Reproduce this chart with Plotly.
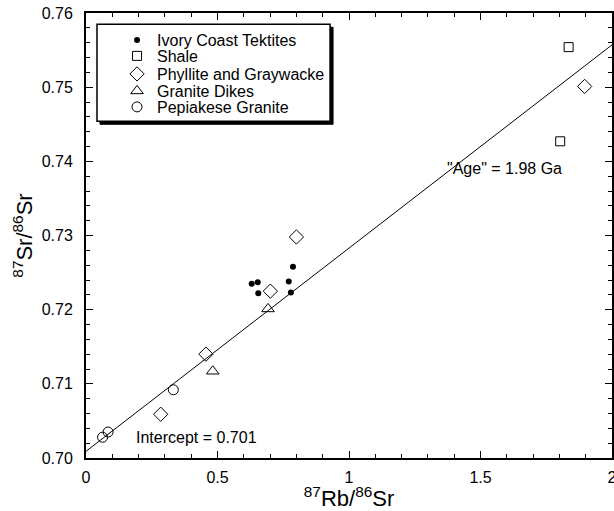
import plotly.graph_objects as go

# Data
tek_x = [0.630, 0.653, 0.655, 0.771, 0.787, 0.779]
tek_y = [0.7235, 0.7237, 0.7222, 0.7238, 0.7258, 0.7223]
shale_x = [1.835, 1.803]
shale_y = [0.7554, 0.7427]
phy_x = [0.284, 0.456, 0.701, 0.800, 1.896]
phy_y = [0.7059, 0.7140, 0.7225, 0.7298, 0.7501]
dike_x = [0.482, 0.692]
dike_y = [0.7117, 0.7201]
gran_x = [0.063, 0.084, 0.332]
gran_y = [0.7028, 0.7035, 0.7092]
fit_x = [0.0, 2.0]
fit_y = [0.7009, 0.7557]

x_ticks = [0, 0.5, 1, 1.5, 2]
x_labels = ["0", "0.5", "1", "1.5", "2"]
y_ticks = [0.70, 0.71, 0.72, 0.73, 0.74, 0.75, 0.76]
y_labels = ["0.70", "0.71", "0.72", "0.73", "0.74", "0.75", "0.76"]

FONT = "Liberation Sans, Arial, Helvetica, sans-serif"

fig = go.Figure()
fig.add_trace(go.Scatter(x=fit_x, y=fit_y, mode="lines",
                         line=dict(color="black", width=1), showlegend=False, hoverinfo="skip"))
fig.add_trace(go.Scatter(x=tek_x, y=tek_y, mode="markers", name="Ivory Coast Tektites", legend="legend",
                         marker=dict(symbol="circle", size=6, color="black")))
fig.add_trace(go.Scatter(x=shale_x, y=shale_y, mode="markers", name="Shale", legend="legend2",
                         marker=dict(symbol="square-open", size=9, color="black", line=dict(width=1))))
fig.add_trace(go.Scatter(x=phy_x, y=phy_y, mode="markers", name="Phyllite and Graywacke", legend="legend3",
                         marker=dict(symbol="diamond-open", size=11, color="black", line=dict(width=1))))
fig.add_trace(go.Scatter(x=dike_x, y=dike_y, mode="markers", name="Granite Dikes", legend="legend4",
                         marker=dict(symbol="triangle-up-open", size=11, color="black", line=dict(width=1))))
fig.add_trace(go.Scatter(x=gran_x, y=gran_y, mode="markers", name="Pepiakese Granite", legend="legend5",
                         marker=dict(symbol="circle-open", size=10, color="black", line=dict(width=1))))

axis_common = dict(showgrid=False, zeroline=False, showline=True, linecolor="black", linewidth=2,
                   mirror="ticks", ticks="inside", ticklen=7, tickwidth=1, tickcolor="black",
                   automargin=False, ticklabeloverflow="allow",
                   tickfont=dict(family=FONT, size=16, color="black"))

fig.update_xaxes(range=[0, 2], tickvals=x_ticks, ticktext=x_labels,
                 minor=dict(dtick=0.1, ticks="inside", ticklen=4, tickcolor="black", tickwidth=1),
                 ticklabelstandoff=4,
                 title=dict(text="<sup>87</sup>Rb/<sup>86</sup>Sr", font=dict(family=FONT, size=22, color="black"),
                            standoff=0),
                 **axis_common)
fig.update_yaxes(range=[0.70, 0.76], tickvals=y_ticks, ticktext=y_labels,
                 minor=dict(dtick=0.002, ticks="inside", ticklen=4, tickcolor="black", tickwidth=1),
                 ticklabelstandoff=8,
                 title=dict(text="<sup>87</sup>Sr/<sup>86</sup>Sr", font=dict(family=FONT, size=22, color="black"),
                            standoff=3),
                 **axis_common)

# legend box with drop shadow
fig.add_shape(type="rect", xref="paper", yref="paper", x0=0.0266, x1=0.4697, y0=0.750, y1=0.968,
              fillcolor="black", line=dict(color="black", width=1), layer="above")
fig.add_shape(type="rect", xref="paper", yref="paper", x0=0.0209, x1=0.464, y0=0.757, y1=0.975,
              fillcolor="white", line=dict(color="black", width=1.5), layer="above")

fig.add_annotation(x=0.183, y=0.7027, xref="x", yref="y", text="Intercept = 0.701", showarrow=False,
                   xanchor="left", font=dict(family=FONT, size=16, color="black"))
fig.add_annotation(x=1.365, y=0.7391, xref="x", yref="y", text='"Age" = 1.98 Ga', showarrow=False,
                   xanchor="left", font=dict(family=FONT, size=16, color="black"))

row_y = [0.939, 0.9034, 0.8629, 0.8247, 0.7888]
leg_common = dict(x=0.059, xanchor="left", yanchor="middle", bgcolor="rgba(0,0,0,0)", borderwidth=0,
                  font=dict(family=FONT, size=16, color="black"), itemwidth=30)

fig.update_layout(width=614, height=511, margin=dict(l=86, r=2, t=13, b=53),
                  paper_bgcolor="white", plot_bgcolor="white",
                  legend=dict(y=row_y[0], **leg_common),
                  legend2=dict(y=row_y[1], **leg_common),
                  legend3=dict(y=row_y[2], **leg_common),
                  legend4=dict(y=row_y[3], **leg_common),
                  legend5=dict(y=row_y[4], **leg_common),
                  font=dict(family=FONT, color="black"))

fig.write_html("out.html", config={"displayModeBar": False},
               post_script="document.body.style.margin='0';")
